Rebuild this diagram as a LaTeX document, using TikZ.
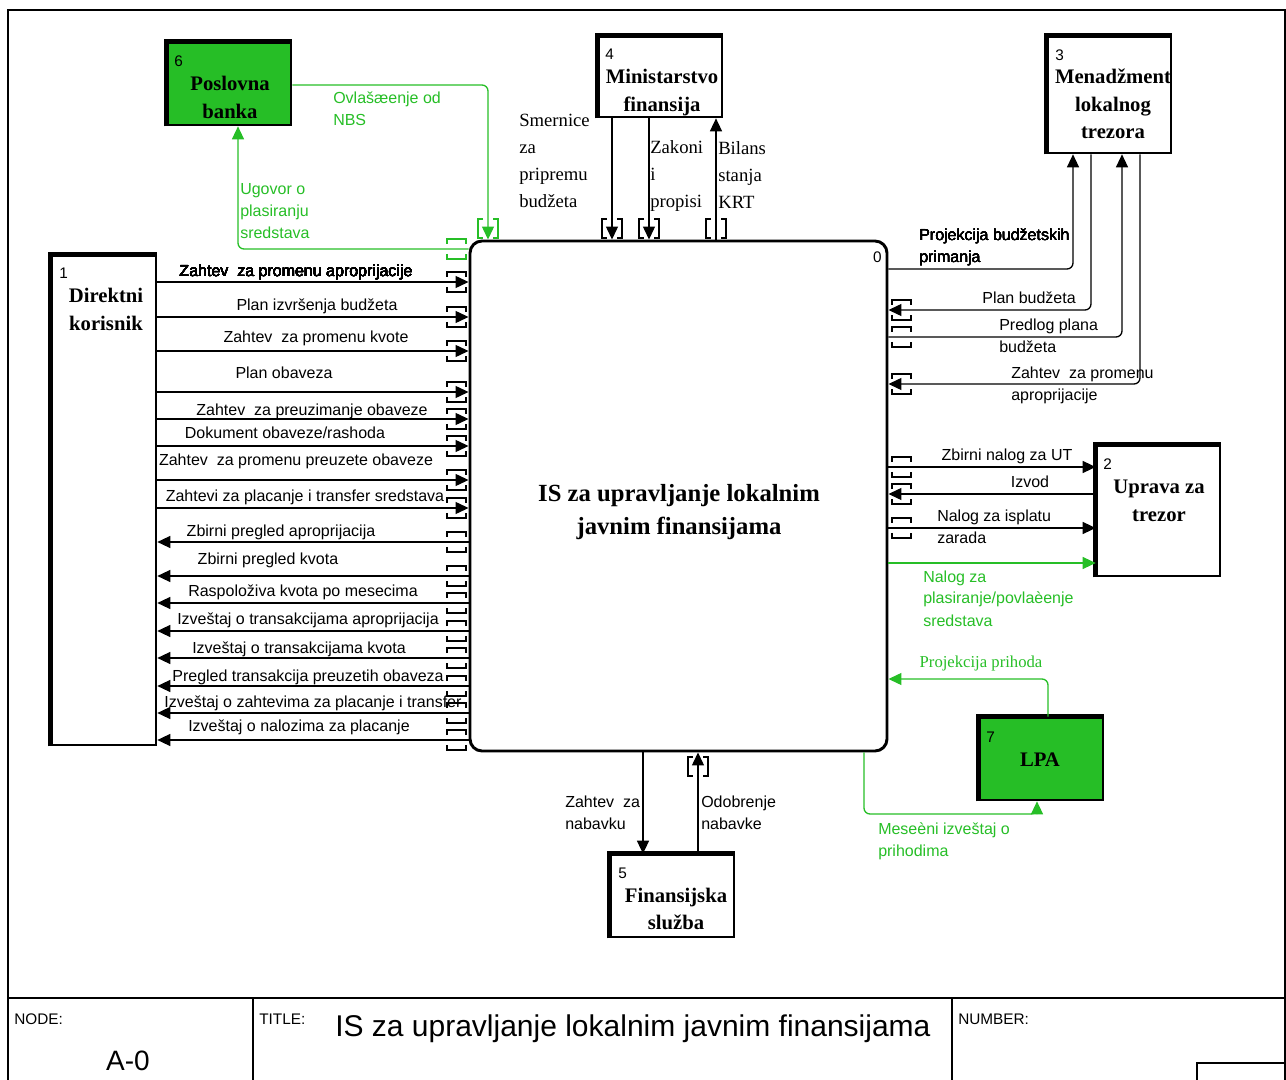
\documentclass[tikz,border=0pt]{standalone}
\usepackage{fontspec}
\setmainfont{Liberation Serif}
\setsansfont{Liberation Sans}
\usetikzlibrary{arrows.meta,fit}
\definecolor{idefgreen}{RGB}{38,190,38}
% multi-line label bodies whose baseline is the baseline of the first line
\newcommand\linesL[1]{\begin{tabular}[t]{@{}l@{}}#1\end{tabular}}
\newcommand\linesC[1]{\begin{tabular}[t]{@{}c@{}}#1\end{tabular}}
% tunnel brackets above and below a horizontal arrow (x = left end of the bracket)
\newcommand\tunH[3][black]{%
  \draw[brk,draw=#1] (#2,#3-5) -- (#2,#3-10) -- (#2+19,#3-10) -- (#2+19,#3-5)
                     (#2,#3+5) -- (#2,#3+10) -- (#2+19,#3+10) -- (#2+19,#3+5);}
% tunnel brackets left and right of a vertical arrow (y = top end of the bracket)
\newcommand\tunV[3][black]{%
  \draw[brk,draw=#1] (#2-5,#3) -- (#2-10,#3) -- (#2-10,#3+19) -- (#2-5,#3+19)
                     (#2+5,#3) -- (#2+10,#3) -- (#2+10,#3+19) -- (#2+5,#3+19);}
\begin{document}
\begin{tikzpicture}[x=0.75pt,y=-0.75pt,
  frameline/.style={line width=1.1pt},
  ebox/.style={draw, line width=2pt, rectangle, inner sep=0pt},
  gbox/.style={ebox, fill=idefgreen},
  mainbox/.style={draw, line width=2.2pt, rectangle, rounded corners=9pt, inner sep=0pt},
  thickedge/.style={line width=4pt, line join=miter},
  boxtitle/.style={font=\rmfamily\bfseries\fontsize{15.5}{20.5}\selectfont, inner sep=0pt},
  maintitle/.style={font=\rmfamily\bfseries\fontsize{18.5}{24.75}\selectfont, inner sep=0pt},
  numlbl/.style={font=\sffamily\fontsize{11.5}{14}\selectfont, inner sep=0pt},
  lbl/.style={font=\sffamily\fontsize{12}{16.5}\selectfont, inner sep=0pt},
  glbl/.style={lbl, text=idefgreen},
  slbl/.style={font=\rmfamily\fontsize{14}{20.25}\selectfont, inner sep=0pt},
  gslbl/.style={font=\rmfamily\fontsize{12.5}{16}\selectfont, inner sep=0pt, text=idefgreen},
  foot/.style={font=\sffamily\fontsize{11.5}{14}\selectfont, inner sep=0pt},
  footbig/.style={font=\sffamily\fontsize{21}{24}\selectfont, inner sep=0pt},
  foottitle/.style={font=\sffamily\fontsize{22.5}{26}\selectfont, inner sep=0pt},
  flow/.style={draw=black, line width=1pt, -{Triangle[length=9.75pt,width=9pt]}},
  gflow/.style={flow, draw=idefgreen},
  brk/.style={line width=0.9pt},
]
\useasboundingbox (0,0) rectangle (1286,1080);

% drawing frame and title block
\draw[frameline] (8,1080) -- (8,10) -- (1285,10) -- (1285,1080);
\draw[line width=1.4pt] (8,998) -- (1286,998);
\draw[frameline] (253,998) -- (253,1080) (952,998) -- (952,1080);
\draw[frameline] (1197,1080) -- (1197,1063) -- (1286,1063);
\node[foot, anchor=base west] (fnode) at (14,1024) {NODE:};
\node[footbig, anchor=base] (fa0) at (128,1070) {A-0};
\node[foot, anchor=base west] (ftitle) at (259,1024) {TITLE:};
\node[foottitle, anchor=base west] (ftext) at (335,1036) {IS za upravljanje lokalnim javnim finansijama};
\node[foot, anchor=base west] (fnum) at (958,1024) {NUMBER:};

% activity and external boxes
\node[mainbox, fit={(470,241) (887,751)}] (n0) {};
\node[gbox, fit={(168,43) (291,125)}] (n6) {};
\node[ebox, fit={(599,37) (722,117)}] (n4) {};
\node[ebox, fit={(1048,37) (1171,153)}] (n3) {};
\node[ebox, fit={(1097,446) (1220,576)}] (n2) {};
\node[gbox, fit={(980,718) (1103,800)}] (n7) {};
\node[ebox, fit={(611,855) (734,937)}] (n5) {};
\node[ebox, fit={(52,256) (156,745)}] (n1) {};
\foreach \b in {n1,n2,n3,n4,n5,n6,n7}
  \draw[thickedge] (\b.south west) -- (\b.north west) -- (\b.north east);

% box titles and numbers
\node[maintitle, anchor=base] (t0) at (679,502) {\linesC{IS za upravljanje lokalnim\\javnim finansijama}};
\node[boxtitle, anchor=base] (t6) at (230,91) {\linesC{Poslovna\\banka}};
\node[boxtitle, anchor=base] (t4) at (662,84) {\linesC{Ministarstvo\\finansija}};
\node[boxtitle, anchor=base] (t3) at (1113,84) {\linesC{Menadžment\\lokalnog\\trezora}};
\node[boxtitle, anchor=base] (t2) at (1159,494) {\linesC{Uprava za\\trezor}};
\node[boxtitle, anchor=base] (t7) at (1040,766) {LPA};
\node[boxtitle, anchor=base] (t5) at (676,902) {\linesC{Finansijska\\služba}};
\node[boxtitle, anchor=base] (t1) at (106,303) {\linesC{Direktni\\korisnik}};
\node[numlbl, anchor=base east] (k0) at (882,263) {0};
\node[numlbl, anchor=base west] (k6) at (174,67) {6};
\node[numlbl, anchor=base west] (k4) at (605,60) {4};
\node[numlbl, anchor=base west] (k3) at (1055,61) {3};
\node[numlbl, anchor=base west] (k2) at (1103,470) {2};
\node[numlbl, anchor=base west] (k7) at (986,742) {7};
\node[numlbl, anchor=base west] (k5) at (618,878) {5};
\node[numlbl, anchor=base west] (k1) at (59,279) {1};

% flows between Direktni korisnik and the activity
\foreach \y in {282,317,351,392,419,446,480,508}
  \draw[flow] (n1.east |- 0,\y) -- (n0.west |- 0,\y);
\foreach \y in {542,576,603,631,658,686,713,740}
  \draw[flow] (n0.west |- 0,\y) -- (n1.east |- 0,\y);
\foreach \y in {282,317,351,392,419,446,480,508,542,576,603,631,658,686,713,740}
  \tunH{447}{\y}
\node[lbl, anchor=base] (a1) at (296,277) {Zahtev\ \ za promenu aproprijacije};
\node[lbl, anchor=base] (a2) at (317,311) {Plan izvršenja budžeta};
\node[lbl, anchor=base] (a3) at (316,343) {Zahtev\ \ za promenu kvote};
\node[lbl, anchor=base] (a4) at (284,379) {Plan obaveza};
\node[lbl, anchor=base] (a5) at (312,416) {Zahtev\ \ za preuzimanje obaveze};
\node[lbl, anchor=base] (a6) at (285,439) {Dokument obaveze/rashoda};
\node[lbl, anchor=base] (a7) at (296,466) {Zahtev\ \ za promenu preuzete obaveze};
\node[lbl, anchor=base] (a8) at (305,502) {Zahtevi za placanje i transfer sredstava};
\node[lbl, anchor=base] (a9) at (281,537) {Zbirni pregled aproprijacija};
\node[lbl, anchor=base] (a10) at (268,565) {Zbirni pregled kvota};
\node[lbl, anchor=base] (a11) at (303,596) {Raspoloživa kvota po mesecima};
\node[lbl, anchor=base] (a12) at (308,624) {Izveštaj o transakcijama aproprijacija};
\node[lbl, anchor=base] (a13) at (299,653) {Izveštaj o transakcijama kvota};
\node[lbl, anchor=base] (a14) at (308,681) {Pregled transakcija preuzetih obaveza};
\node[lbl, anchor=base] (a15) at (313,707) {Izveštaj o zahtevima za placanje i transfer};
\node[lbl, anchor=base] (a16) at (299,731) {Izveštaj o nalozima za placanje};

% flows with Poslovna banka
\draw[gflow, rounded corners=4.5pt] (n0.west |- 0,249) -| (n6.south -| 238,0);
\tunH[idefgreen]{447}{249}
\node[glbl, anchor=base west] (b1) at (240,195) {\linesL{Ugovor o\\plasiranju\\sredstava}};
\draw[gflow, rounded corners=4.5pt] (n6.east |- 0,85) -| (n0.north -| 488,0);
\tunV[idefgreen]{488}{219}
\node[glbl, anchor=base west] (b2) at (333,104) {\linesL{Ovlašæenje od\\NBS}};

% flows with Ministarstvo finansija
\draw[flow] (n4.south -| 612,0) -- (n0.north -| 612,0);
\draw[flow] (n4.south -| 649,0) -- (n0.north -| 649,0);
\draw[flow] (n0.north -| 716,0) -- (n4.south -| 716,0);
\tunV{612}{219}
\tunV{649}{219}
\tunV{716}{219}
\node[slbl, anchor=base west] (m1) at (519,127) {\linesL{Smernice\\za\\pripremu\\budžeta}};
\node[slbl, anchor=base west] (m2) at (650,154) {\linesL{Zakoni\\i\\propisi}};
\node[slbl, anchor=base west] (m3) at (718,155) {\linesL{Bilans\\stanja\\KRT}};

% flows with Menadžment lokalnog trezora
\draw[flow, rounded corners=4.5pt] (n0.east |- 0,269) -| (n3.south -| 1073,0);
\draw[flow, rounded corners=4.5pt] (n3.south -| 1091,0) |- (n0.east |- 0,310);
\draw[flow, rounded corners=4.5pt] (n0.east |- 0,337) -| (n3.south -| 1122,0);
\draw[flow, rounded corners=4.5pt] (n3.south -| 1140,0) |- (n0.east |- 0,384);
\foreach \y in {310,337,384,467,494,528}
  \tunH{892}{\y}
\node[lbl, anchor=base west] (r1) at (919,241) {\linesL{Projekcija budžetskih\\primanja}};
\node[lbl, anchor=base east] (r2) at (1076,304) {Plan budžeta};
\node[lbl, anchor=base west] (r3) at (999,331) {\linesL{Predlog plana\\budžeta}};
\node[lbl, anchor=base west] (r4) at (1011,379) {\linesL{Zahtev\ \ za promenu\\aproprijacije}};

% flows with Uprava za trezor
\draw[flow] (n0.east |- 0,467) -- (n2.west |- 0,467);
\draw[flow] (n2.west |- 0,494) -- (n0.east |- 0,494);
\draw[flow] (n0.east |- 0,528) -- (n2.west |- 0,528);
\draw[gflow] (n0.east |- 0,563) -- (n2.west |- 0,563);
\node[lbl, anchor=base] (u1) at (1007,461) {Zbirni nalog za UT};
\node[lbl, anchor=base] (u2) at (1030,488) {Izvod};
\node[lbl, anchor=base west] (u3) at (937,522) {\linesL{Nalog za isplatu\\zarada}};
\node[glbl, anchor=base west] (u4) at (923,582) {\linesL{Nalog za\\plasiranje/povlaèenje\\sredstava}};

% flows with LPA
\draw[gflow, rounded corners=4.5pt] (n7.north -| 1048,0) |- (n0.east |- 0,679);
\node[gslbl, anchor=base] (p1) at (981,667) {Projekcija prihoda};
\draw[gflow] (n0.south -| 864,0) [rounded corners=4.5pt] |- (1037,814) [sharp corners] -- (n7.south -| 1037,0);
\node[glbl, anchor=base west] (p2) at (878,834) {\linesL{Meseèni izveštaj o\\prihodima}};

% flows with Finansijska služba
\draw[flow] (n0.south -| 643,0) -- (n5.north -| 643,0);
\draw[flow] (n5.north -| 698,0) -- (n0.south -| 698,0);
\tunV{698}{757}
\node[lbl, anchor=base west] (f1) at (565,807) {\linesL{Zahtev\ \ za\\nabavku}};
\node[lbl, anchor=base west] (f2) at (701,807) {\linesL{Odobrenje\\nabavke}};
\end{tikzpicture}
\end{document}
